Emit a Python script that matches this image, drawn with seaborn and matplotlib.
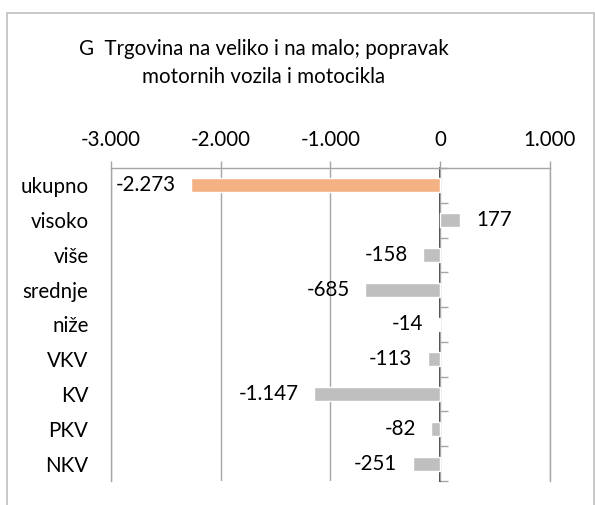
import matplotlib
matplotlib.use("Agg")
import matplotlib.pyplot as plt
import matplotlib.patches as mpatches
import seaborn as sns
import pandas as pd
import numpy as np

categories = ["ukupno", "visoko", "više", "srednje", "niže", "VKV", "KV", "PKV", "NKV"]
values = [-2273, 177, -158, -685, -14, -113, -1147, -82, -251]
labels = ["-2.273", "177", "-158", "-685", "-14", "-113", "-1.147", "-82", "-251"]
bar_colors = ["#F4B183"] + ["#BFBFBF"] * 8
x_ticks = [-3000, -2000, -1000, 0, 1000]
x_ticklabels = ["-3.000", "-2.000", "-1.000", "0", "1.000"]
title = "G  Trgovina na veliko i na malo; popravak\nmotornih vozila i motocikla"

sns.set_theme(style="white")
plt.rcParams["font.family"] = ["Lato", "DejaVu Sans"]
FS = 14.8

df = pd.DataFrame({"cat": categories, "val": values})

fig = plt.figure(figsize=(5.95, 5.05), dpi=100)
ax = fig.add_axes([110.7 / 595, 1 - 481 / 505, (550 - 110.7) / 595, (481 - 168) / 505])

sns.barplot(data=df, x="val", y="cat", hue="cat", palette=bar_colors, legend=False,
            width=0.4, ax=ax, saturation=1, orient="h")

xmin, xmax = -3000, 1000
ax.set_xlim(xmin, xmax)
ax.set_ylim(len(categories) - 0.5, -0.5)
ax.set_xlabel("")
ax.set_ylabel("")

grid_c = "#A6A6A6"
ax.xaxis.tick_top()
ax.set_xticks(x_ticks)
ax.set_xticklabels(x_ticklabels, fontsize=FS, color="black")
ax.tick_params(axis="x", which="major", length=5, width=1, color=grid_c, pad=8, top=True, bottom=False, direction="out")
ax.tick_params(axis="y", length=0, pad=16, labelsize=FS, labelcolor="black")
ax.xaxis.grid(True, color=grid_c, linewidth=1)
ax.yaxis.grid(False)
ax.set_axisbelow(True)
for s in ["left", "right", "top"]:
    ax.spines[s].set_visible(True)
    ax.spines[s].set_color(grid_c)
    ax.spines[s].set_linewidth(1)
ax.spines["bottom"].set_visible(False)

# zero axis with category boundary ticks
sec = ax.secondary_yaxis((0 - xmin) / (xmax - xmin))
sec.set_yticks(np.arange(len(categories) + 1) - 0.5)
sec.set_yticklabels([])
sec.tick_params(length=6, width=1, color=grid_c, direction="out")
sec.spines["left"].set_color(grid_c)
sec.spines["left"].set_linewidth(1)

# data labels
for i, (v, lab) in enumerate(zip(values, labels)):
    if v >= 0:
        ax.annotate(lab, (v, i), xytext=(12, 0), textcoords="offset points",
                    ha="left", va="center", fontsize=FS, color="black")
    elif v - 560 < xmin:
        ax.annotate(lab, (xmin, i), xytext=(1, 0), textcoords="offset points",
                    ha="left", va="center", fontsize=FS, color="black")
    else:
        ax.annotate(lab, (v, i), xytext=(-11, 0), textcoords="offset points",
                    ha="right", va="center", fontsize=FS, color="black")

fig.text(264 / 595, 1 - 63 / 505, title, ha="center", va="center", fontsize=FS,
         linespacing=1.55, color="black")

border = mpatches.Rectangle((7 / 595, -0.1), (594 - 7) / 595, 1.1 - 13 / 505,
                            transform=fig.transFigure, fill=False,
                            edgecolor="#BFBFBF", linewidth=1.2)
fig.add_artist(border)

fig.savefig("out.png", dpi=100, facecolor="white")
